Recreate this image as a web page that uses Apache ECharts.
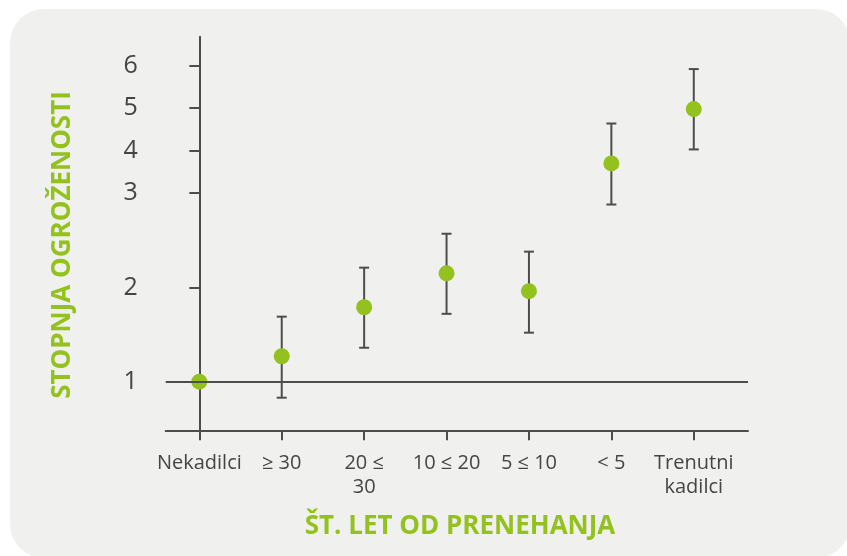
<!DOCTYPE html>
<html>
<head>
<meta charset="utf-8">
<script src="https://cdn.jsdelivr.net/npm/echarts@6/dist/echarts.min.js"></script>
<style>
html,body{margin:0;padding:0;background:#ffffff;}
#chart{width:847px;height:556px;}
</style>
</head>
<body>
<div id="chart"></div>
<script>
// ---- data ----
const categories = ['Nekadilci', '≥ 30', '20 ≤\n30', '10 ≤ 20', '5 ≤ 10', '< 5', 'Trenutni\nkadilci'];
const riskValues = [1.00, 1.27, 1.79, 2.15, 1.96, 3.70, 4.98];
const lowerCI    = [null, 0.83, 1.36, 1.72, 1.52, 2.88, 4.03];
const upperCI    = [null, 1.69, 2.21, 2.57, 2.38, 4.64, 5.92];
const yTickValues = [1, 2, 3, 4, 5, 6];
const xAxisTitle = 'ŠT. LET OD PRENEHANJA';
const yAxisTitle = 'STOPNJA OGROŽENOSTI';

// ---- piecewise axis scale (original chart compresses values above 3) ----
const UPPER_RATIO = 42.5 / 94.2;
function toAxis(v) { return v <= 3 ? v : 3 + (v - 3) * UPPER_RATIO; }
function fromAxis(a) { return a <= 3 ? a : 3 + (a - 3) / UPPER_RATIO; }

const GREEN = '#93c11d';
const DARK = '#4d4d4d';
const FONT = '"Open Sans", "DejaVu Sans", sans-serif';

const pointData = riskValues.map((v, i) => [i, toAxis(v)]);
const errData = [];
riskValues.forEach((v, i) => {
  if (lowerCI[i] != null && upperCI[i] != null) errData.push([i, toAxis(lowerCI[i]), toAxis(upperCI[i])]);
});

const chart = echarts.init(document.getElementById('chart'), null, {renderer: 'canvas'});
const option = {
  backgroundColor: 'transparent',
  animation: false,
  graphic: [
    {type: 'rect', z: -10, silent: true,
     shape: {x: 10, y: 9, width: 840, height: 549, r: 34},
     style: {fill: '#f0f0ef'}},
    {type: 'text', silent: true,
     x: 460, y: 527,
     style: {text: xAxisTitle, fill: GREEN, font: 'bold 26px ' + FONT, align: 'center', verticalAlign: 'middle'}},
    {type: 'text', silent: true, x: 63, y: 245, rotation: Math.PI / 2,
     style: {text: yAxisTitle, fill: GREEN, font: 'bold 26px ' + FONT, align: 'center', verticalAlign: 'middle'}}
  ],
  grid: {left: 165.7, top: 36.7, right: 99, bottom: 125.7, containLabel: false},
  xAxis: {
    type: 'value',
    min: -0.408, max: 6.658,
    axisLine: {show: true, lineStyle: {color: DARK, width: 2}},
    axisTick: {show: true, customValues: categories.map((c, i) => i), length: 10, lineStyle: {color: DARK, width: 2}},
    axisLabel: {
      customValues: categories.map((c, i) => i),
      formatter: v => categories[Math.round(v)] || '',
      color: '#454545', fontSize: 20, fontFamily: FONT, lineHeight: 24, margin: 21
    },
    splitLine: {show: false}
  },
  yAxis: {
    type: 'value',
    min: 0.484, max: 4.661,
    axisLine: {show: true, lineStyle: {color: DARK, width: 2}},
    axisTick: {show: true, customValues: yTickValues.map(toAxis), length: 10, lineStyle: {color: DARK, width: 2}},
    axisLabel: {
      customValues: yTickValues.map(toAxis),
      formatter: v => String(Math.round(fromAxis(v))),
      color: '#454545', fontSize: 25, fontFamily: FONT, margin: 28
    },
    splitLine: {show: false}
  },
  series: [
    {
      type: 'custom',
      z: 2,
      silent: true,
      data: errData,
      renderItem: function (params, api) {
        const x = api.value(0);
        const lo = api.coord([x, api.value(1)]);
        const hi = api.coord([x, api.value(2)]);
        const cap = 5;
        const st = {stroke: DARK, lineWidth: 2};
        return {
          type: 'group',
          children: [
            {type: 'line', shape: {x1: lo[0], y1: lo[1], x2: hi[0], y2: hi[1]}, style: st},
            {type: 'line', shape: {x1: lo[0] - cap, y1: lo[1], x2: lo[0] + cap, y2: lo[1]}, style: st},
            {type: 'line', shape: {x1: hi[0] - cap, y1: hi[1], x2: hi[0] + cap, y2: hi[1]}, style: st}
          ]
        };
      }
    },
    {
      type: 'scatter',
      z: 3,
      silent: true,
      symbol: 'circle',
      symbolSize: 16,
      itemStyle: {color: GREEN, opacity: 1},
      data: pointData,
      markLine: {
        silent: true,
        symbol: ['none', 'none'],
        label: {show: false},
        lineStyle: {color: DARK, width: 2, type: 'solid'},
        data: [{yAxis: toAxis(1)}]
      }
    }
  ]
};
chart.setOption(option);
</script>
</body>
</html>
